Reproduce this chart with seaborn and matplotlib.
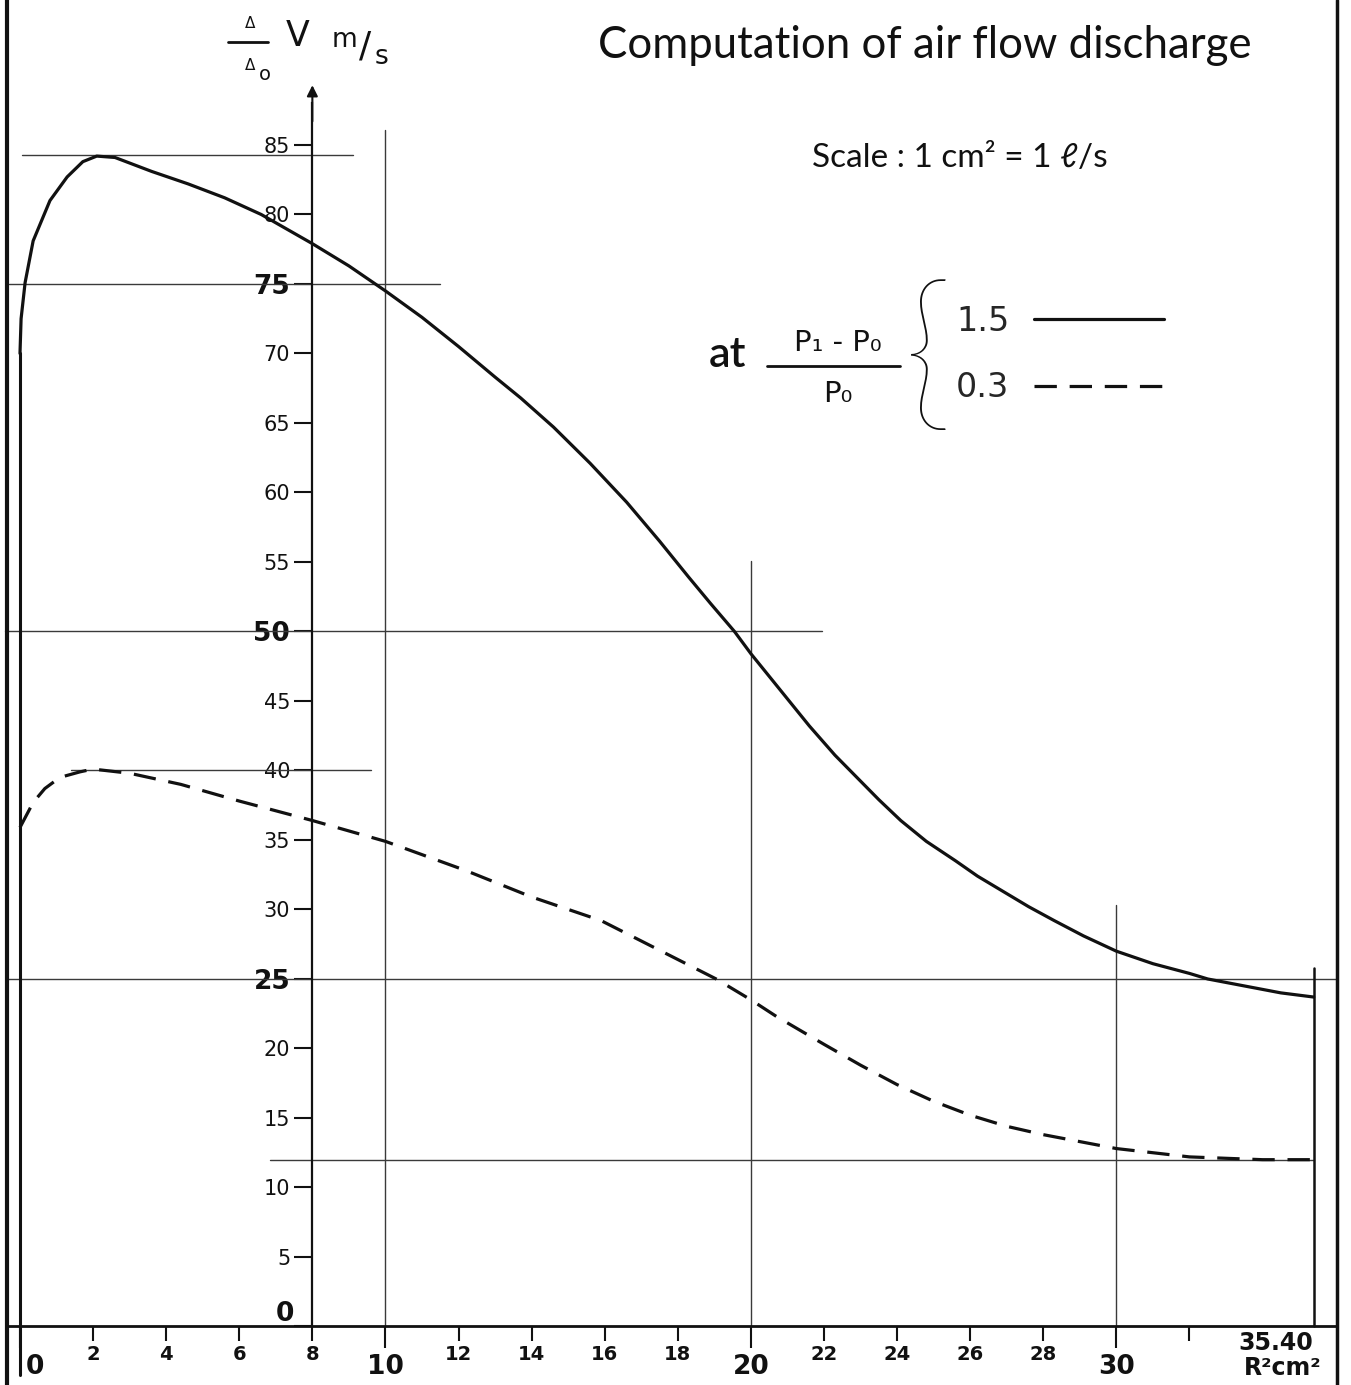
import numpy as np
import pandas as pd
import seaborn as sns
import matplotlib.pyplot as plt
from matplotlib.lines import Line2D
from matplotlib.transforms import ScaledTranslation

# --- data ---
r2_high = [0, 0.03, 0.14, 0.36, 0.82, 1.29, 1.72, 2.1, 2.6, 3.6, 4.6, 5.6, 6.6, 8.0, 9.0, 10.0,
           11.0, 12.0, 13.0, 13.7, 14.6, 15.6, 16.6, 17.5, 18.3, 18.9, 19.55, 20.0, 20.8, 21.6,
           22.3, 22.9, 23.5, 24.1, 24.8, 25.6, 26.2, 26.9, 27.6, 28.3, 29.1, 30.0, 31.0, 32.0,
           32.5, 33.5, 34.5, 35.4]
v_high = [70.0, 72.5, 75.1, 78.1, 81.0, 82.7, 83.8, 84.2, 84.1, 83.1, 82.2, 81.2, 80.0, 77.9, 76.3, 74.5,
          72.6, 70.5, 68.3, 66.8, 64.7, 62.1, 59.3, 56.5, 53.9, 52.0, 50.0, 48.4, 45.8, 43.2,
          41.1, 39.5, 37.9, 36.4, 34.9, 33.5, 32.4, 31.3, 30.2, 29.2, 28.1, 27.0, 26.1, 25.4,
          25.0, 24.5, 24.0, 23.7]

r2_low = [0, 0.36, 0.68, 1.09, 1.64, 2.0, 3.0, 4.4, 6.0, 8.0, 10.0, 12.2, 14.0, 15.9, 17.7, 19.05,
          20.0, 20.7, 22.0, 23.0, 24.0, 25.0, 26.0, 27.0, 28.0, 29.0, 30.0, 31.0, 32.0, 33.0, 34.0, 35.4]
v_low = [35.9, 37.7, 38.7, 39.5, 39.9, 40.1, 39.8, 39.0, 37.8, 36.4, 34.9, 32.8, 30.9, 29.2, 26.8, 25.0,
         23.5, 22.3, 20.3, 18.8, 17.4, 16.2, 15.2, 14.4, 13.8, 13.3, 12.8, 12.5, 12.2, 12.1, 12.0, 12.0]

ratio_labels = ['1.5', '0.3']

y_ticks = list(range(0, 90, 5))
y_bold = [0, 25, 50, 75]
x_major = [0, 10, 20, 30]
x_minor = [2, 4, 6, 8, 12, 14, 16, 18, 22, 24, 26, 28, 32]

# construction lines of the drawing
h_lines_y = [84.3, 75, 50, 40, 25, 12.0]
h_lines_from = [0.05, -0.3, -0.4, 1.4, -0.36, 6.85]
h_lines_to = [9.1, 11.5, 21.95, 9.6, 36.0, 35.4]
v_lines_x = [10, 20, 30]
v_lines_top = [86.1, 55.1, 30.3]
r2_end = 35.4
r2_end_top = 25.8

W, H = 1351, 1385


def px(x, y):
    return x / W, 1 - y / H


sns.set_style('white')
plt.rcParams['font.family'] = ['DejaVu Sans']

fig = plt.figure(figsize=(W / 100, H / 100), dpi=100)
ax = fig.add_axes([0, 0, 1, 1])
ax.set_xlim(-0.547, 36.42)
ax.set_ylim(-4.21, 95.43)

ink = '#111111'
thin = '#3a3a3a'

# reference lines
for y, a, b in zip(h_lines_y, h_lines_from, h_lines_to):
    ax.plot([a, b], [y, y], color=thin, lw=1.0, zorder=1)
for x, top in zip(v_lines_x, v_lines_top):
    ax.plot([x, x], [0, top], color=thin, lw=1.0, zorder=1)
ax.plot([r2_end, r2_end], [0, r2_end_top], color=ink, lw=1.8, zorder=2)
ax.plot([0, 0], [-3.5, v_high[0]], color=ink, lw=2.2, zorder=2)

# page borders
ax.axvline(-0.36, color=ink, lw=3)
ax.axvline(36.03, color=ink, lw=2.5)

# curves
sns.lineplot(x=r2_high, y=v_high, ax=ax, color=ink, lw=2.3, label=ratio_labels[0],
             estimator=None, sort=False, zorder=3)
sns.lineplot(x=r2_low, y=v_low, ax=ax, color=ink, lw=2.3, linestyle=(0, (7, 4)),
             label=ratio_labels[1], estimator=None, sort=False, zorder=3)

# axes
for s in ['top', 'right']:
    ax.spines[s].set_visible(False)
ax.spines['left'].set_position(('data', 8))
ax.spines['left'].set_bounds(0, 88)
ax.spines['left'].set_linewidth(1.6)
ax.spines['left'].set_color(ink)
ax.spines['bottom'].set_position(('data', 0))
ax.spines['bottom'].set_bounds(-0.36, 36.03)
ax.spines['bottom'].set_linewidth(2.0)
ax.spines['bottom'].set_color(ink)
ax.annotate('', xy=(8, 89.5), xytext=(8, 86.5),
            arrowprops=dict(arrowstyle='-|>', color=ink, lw=1.5, mutation_scale=16))

ax.set_yticks(y_ticks)
ax.set_yticklabels([str(v) for v in y_ticks])
ax.tick_params(axis='y', direction='out', length=13, width=1.5, pad=3, labelsize=15,
               color=ink, labelcolor=ink, left=True)
for lbl, v in zip(ax.get_yticklabels(), y_ticks):
    if v in y_bold:
        lbl.set_fontsize(19)
        lbl.set_fontweight('bold')
    if v == 0:
        lbl.set_transform(lbl.get_transform() + ScaledTranslation(0.04, 0.15, fig.dpi_scale_trans))

ax.set_xticks(x_major)
ax.set_xticklabels([str(v) for v in x_major])
ax.set_xticks(x_minor, minor=True)
ax.set_xticklabels([str(v) if v != 32 else '' for v in x_minor], minor=True)
ax.tick_params(axis='x', which='major', direction='out', length=16, width=1.5, pad=4,
               labelsize=19, color=ink, labelcolor=ink, bottom=True)
ax.tick_params(axis='x', which='minor', direction='out', length=11, width=1.5, pad=2,
               labelsize=14, color=ink, labelcolor=ink, bottom=True)
for lbl, v in zip(ax.get_xticklabels(), x_major):
    lbl.set_fontweight('bold')
    if v == 0:
        lbl.set_transform(lbl.get_transform() + ScaledTranslation(0.15, 0, fig.dpi_scale_trans))
for lbl in ax.get_xticklabels(minor=True):
    lbl.set_fontweight('semibold')

fig.text(*px(1276, 1343), '35.40', ha='center', va='center', fontsize=17, color=ink,
         fontweight='semibold')
fig.text(*px(1283, 1368), 'R²cm²', ha='center', va='center', fontsize=17, color=ink,
         fontweight='semibold')

# y axis label
fig.text(*px(250, 24), 'Δ', ha='center', va='center', fontsize=11, color=ink)
fig.add_artist(Line2D([228 / W, 268 / W], [1 - 42 / H] * 2, color=ink, lw=2))
fig.text(*px(250, 65), 'Δ', ha='center', va='center', fontsize=11, color=ink)
fig.text(*px(265, 75), 'o', ha='center', va='center', fontsize=14, color=ink)
fig.text(*px(298, 36), 'V', ha='center', va='center', fontsize=25, color=ink)
fig.text(*px(344, 40), 'm', ha='center', va='center', fontsize=19, color=ink)
fig.text(*px(365, 47), '/', ha='center', va='center', fontsize=26, color=ink)
fig.text(*px(382, 57), 's', ha='center', va='center', fontsize=19, color=ink)

# titles
fig.text(*px(598, 45), 'Computation of air flow discharge', ha='left', va='center',
         fontsize=31.5, color=ink, family=['Lato', 'DejaVu Sans'])
fig.text(*px(812, 158), 'Scale : 1 cm² = 1 ℓ/s', ha='left', va='center',
         fontsize=24, color=ink, family=['Lato', 'DejaVu Sans'])

# legend block
fig.text(*px(728, 355), 'at', ha='center', va='center', fontsize=31, color=ink,
         family=['Lato', 'DejaVu Sans'], fontweight='semibold')
fig.text(*px(838, 343), 'P₁ - P₀', ha='center', va='center', fontsize=21, color=ink)
fig.add_artist(Line2D([767 / W, 900 / W], [1 - 366 / H] * 2, color=ink, lw=2))
fig.text(*px(838, 394), 'P₀', ha='center', va='center', fontsize=21, color=ink)
fig.text(*px(928, 362), '{', ha='center', va='center', fontsize=124, color=ink,
         family=['Lato', 'DejaVu Sans'], fontweight='light')

ax.legend(loc='upper left', bbox_to_anchor=px(956, 305), bbox_transform=fig.transFigure,
          frameon=False, markerfirst=False, fontsize=24, handlelength=3.9,
          handletextpad=0.75, labelspacing=1.0, borderpad=0, borderaxespad=0)

fig.savefig('out.png', dpi=100)
